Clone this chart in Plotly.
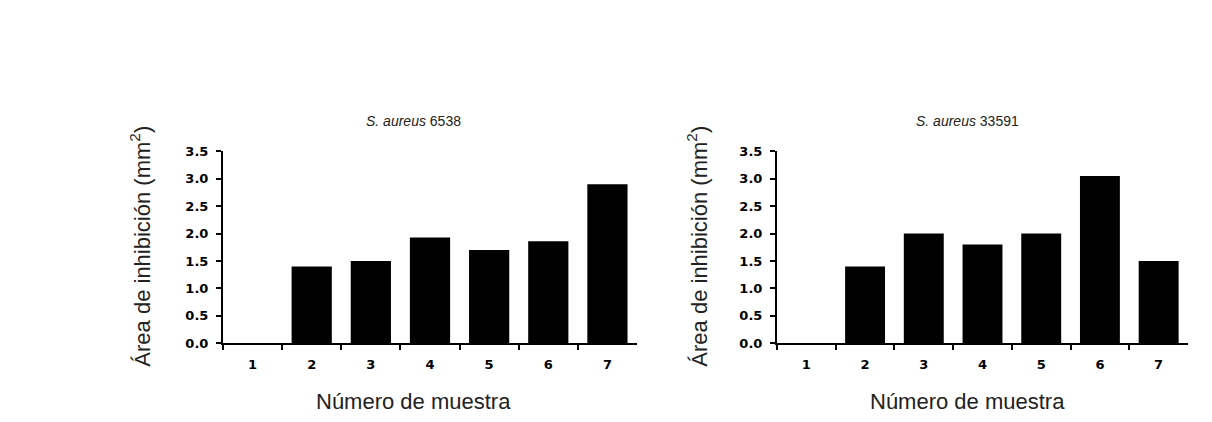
import plotly.graph_objects as go

muestras = ["1", "2", "3", "4", "5", "6", "7"]
valores_6538 = [0, 1.4, 1.5, 1.93, 1.7, 1.86, 2.9]
valores_33591 = [0, 1.4, 2.0, 1.8, 2.0, 3.05, 1.5]
titulos = ["<i>S. aureus</i> 6538", "<i>S. aureus</i> 33591"]
y_ticks = [0, 0.5, 1.0, 1.5, 2.0, 2.5, 3.0, 3.5]

W, H = 1212, 422
fig = go.Figure()
fig.add_trace(go.Bar(x=muestras, y=valores_6538, marker=dict(color="black", line=dict(width=0)),
                     xaxis="x", yaxis="y", width=0.68))
fig.add_trace(go.Bar(x=muestras, y=valores_33591, marker=dict(color="black", line=dict(width=0)),
                     xaxis="x2", yaxis="y2", width=0.68))

ydom = [(H - 348.5) / H, (H - 149.7) / H]
dom1 = [223 / W, 637 / W]
dom2 = [777 / W, 1188 / W]

tickfont = dict(family="DejaVu Sans", size=13, color="black", weight="bold")
xcommon = dict(type="category", range=[-0.5, 6.5], tickson="boundaries", ticks="outside",
               ticklen=5, tickwidth=2, tickcolor="black", showline=True, linecolor="black",
               linewidth=2, showgrid=False, zeroline=False, tickfont=tickfont,
               ticklabelstandoff=8)
ycommon = dict(range=[0, 3.5], tickvals=y_ticks, tickformat=".1f", ticks="outside",
               ticklen=5, tickwidth=2, tickcolor="black", showline=True, linecolor="black",
               linewidth=2, showgrid=False, zeroline=False, tickfont=tickfont,
               ticklabelstandoff=5, domain=ydom)

fig.update_layout(
    width=W, height=H, margin=dict(l=0, r=0, t=0, b=0),
    paper_bgcolor="white", plot_bgcolor="white", showlegend=False,
    xaxis=dict(domain=dom1, anchor="y", **xcommon),
    yaxis=dict(anchor="x", **ycommon),
    xaxis2=dict(domain=dom2, anchor="y2", **xcommon),
    yaxis2=dict(anchor="x2", **ycommon),
)

font_t = dict(family="Liberation Sans, Arial", size=14, color="#222")
font_ax = dict(family="Liberation Sans, Arial", size=22, color="#222")
for cx, ycx, tit in [(413, 140, titulos[0]), (967, 697, titulos[1])]:
    fig.add_annotation(x=cx / W, y=(H - 118.5) / H, xref="paper", yref="paper", text=tit,
                       showarrow=False, font=font_t, xanchor="center", yanchor="middle")
    fig.add_annotation(x=cx / W, y=(H - 409.5) / H, xref="paper", yref="paper", text="Número de muestra",
                       showarrow=False, font=font_ax, xanchor="center", yanchor="middle")
    fig.add_annotation(x=ycx / W, y=(H - 248.5) / H, xref="paper", yref="paper",
                       text="Área de inhibición (mm<sup>2</sup>)", textangle=-90,
                       showarrow=False, font=font_ax, xanchor="center", yanchor="middle")

fig.write_html("out.html", config={"displayModeBar": False},
               post_script="document.body.style.margin='0';document.body.style.overflow='hidden';")
